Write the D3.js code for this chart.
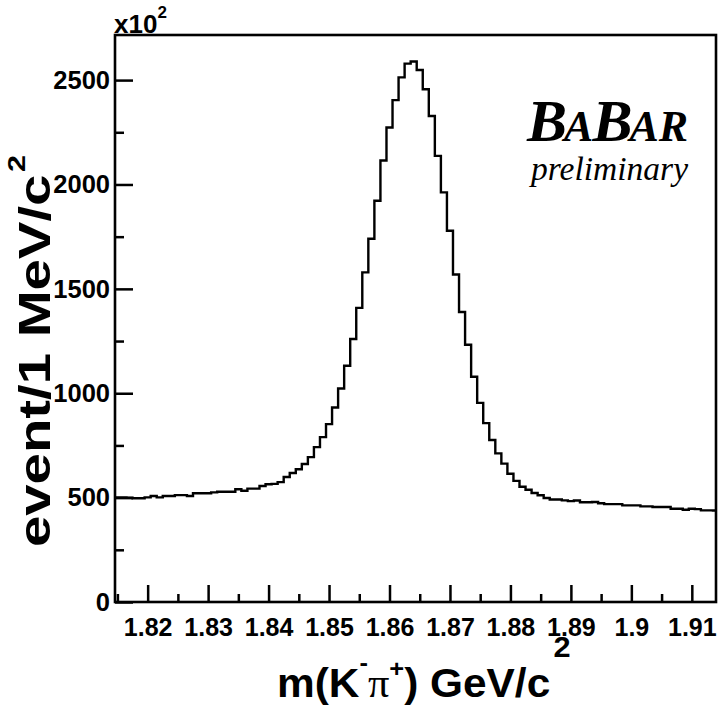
<!DOCTYPE html>
<html><head><meta charset="utf-8">
<script src="https://cdn.jsdelivr.net/npm/d3@7"></script>
<style>body{margin:0;background:#fff}svg{display:block}</style></head>
<body><svg id="c" width="718" height="706"></svg>
<script>
// ---- data ----
const binStart = 1.8145;
const binWidth = 0.001;
const counts = [501,501,500,497,497,501,508,501,508,508,
512,512,508,521,521,521,525,528,528,528,
540,533,543,543,556,564,566,574,599,618,
636,661,694,742,790,852,932,1023,1132,1260,
1409,1579,1740,1922,2115,2273,2404,2513,2579,2589,
2548,2456,2328,2137,1962,1778,1569,1389,1232,1079,
954,857,776,712,663,614,580,552,538,522,
511,498,491,491,487,483,486,478,478,479,
473,469,469,469,463,463,463,458,458,455,
455,455,447,447,442,447,445,439,439,438];
const xTicks = [1.82,1.83,1.84,1.85,1.86,1.87,1.88,1.89,1.90,1.91];
const xMinor = [1.815,1.825,1.835,1.845,1.855,1.865,1.875,1.885,1.895,1.905];
const yTicks = [0,500,1000,1500,2000,2500];
const yMinor = [250,750,1250,1750,2250];

// ---- layout ----
const L=115, R=716, T=35, B=602;
const svg = d3.select('#c');
const x = d3.scaleLinear().domain([1.8146, 1.9140]).range([L, R]);
const y = d3.scaleLinear().domain([0, 2716]).range([B, T]);
const font = "'Liberation Sans', Arial, Helvetica, sans-serif";
const serif = "'Liberation Serif', 'Times New Roman', serif";

svg.append('defs').append('clipPath').attr('id','clip')
  .append('rect').attr('x',L).attr('y',T).attr('width',R-L).attr('height',B-T);

// histogram
const pts = counts.map((c,i)=>[binStart+i*binWidth, c]);
pts.push([binStart+counts.length*binWidth, counts[counts.length-1]]);
const line = d3.line().x(d=>x(d[0])).y(d=>y(d[1])).curve(d3.curveStepAfter);
svg.append('path').attr('clip-path','url(#clip)').attr('d', line(pts))
  .attr('fill','none').attr('stroke','#000').attr('stroke-width',2.4);

// axes
const fmt = d => String(+d.toFixed(2));
const gx = svg.append('g').attr('transform',`translate(0,${B})`)
  .call(d3.axisBottom(x).tickValues(xTicks).tickSize(-17).tickPadding(16).tickFormat(fmt));
const gxm = svg.append('g').attr('transform',`translate(0,${B})`)
  .call(d3.axisBottom(x).tickValues(xMinor).tickSize(-8).tickFormat(''));
const gy = svg.append('g').attr('transform',`translate(${L},0)`)
  .call(d3.axisLeft(y).tickValues(yTicks).tickSize(-18).tickPadding(5).tickFormat(d3.format('d')));
const gym = svg.append('g').attr('transform',`translate(${L},0)`)
  .call(d3.axisLeft(y).tickValues(yMinor).tickSize(-9).tickFormat(''));
[gx,gxm,gy,gym].forEach(g=>{
  g.select('.domain').remove();
  g.selectAll('.tick line').attr('stroke','#000').attr('stroke-width',2.5);
});
gx.selectAll('text').attr('font-family',font).attr('font-weight','bold').attr('font-size',25).attr('fill','#000');
gy.selectAll('text').attr('font-family',font).attr('font-weight','bold').attr('font-size',25.5).attr('fill','#000');

// frame
svg.append('rect').attr('x',L).attr('y',T).attr('width',R-L).attr('height',B-T)
  .attr('fill','none').attr('stroke','#000').attr('stroke-width',2.6);

// x10^2
const ex = svg.append('text').attr('x',L-1).attr('y',33).attr('font-family',font)
  .attr('font-weight','bold').attr('font-size',26);
ex.append('tspan').text('x10');
ex.append('tspan').attr('font-size',17).attr('dy',-15).text('2');

// x title
const xt = svg.append('text').attr('transform','translate(277,697) scale(1.06,1)').attr('font-family',font)
  .attr('font-weight','bold').attr('font-size',40);
xt.append('tspan').text('m(K');
xt.append('tspan').attr('font-size',24).attr('dy',-26).text('-');
xt.append('tspan').attr('dy',26).attr('font-family',serif).attr('font-weight','normal').attr('font-size',40).text('π');
xt.append('tspan').attr('font-size',24).attr('dy',-20).text('+');
xt.append('tspan').attr('dy',20).text(') GeV/c');
xt.append('tspan').attr('font-size',29).attr('dx',3).attr('dy',-40).text('2');

// y title
const yt = svg.append('text').attr('transform','translate(50,547) rotate(-90) scale(1.28,1)')
  .attr('font-family',font).attr('font-weight','bold').attr('font-size',44);
yt.append('tspan').text('event/1 MeV/c');
yt.append('tspan').attr('font-size',24).attr('dx',2).attr('dy',-25).text('2');

// BABAR logo
const bb = svg.append('text').attr('x',527).attr('y',141).attr('font-family',serif)
  .attr('font-weight','bold').attr('font-style','italic');
bb.append('tspan').attr('font-size',60).text('B');
bb.append('tspan').attr('font-size',44).attr('dx',-3).text('A');
bb.append('tspan').attr('font-size',60).attr('dx',-1).text('B');
bb.append('tspan').attr('font-size',44).attr('dx',-3).text('A');
bb.append('tspan').attr('font-size',44).attr('dx',0).text('R');
svg.append('text').attr('x',688).attr('y',180).attr('text-anchor','end').attr('font-family',serif)
  .attr('font-style','italic').attr('font-size',33.5).text('preliminary');
</script>
</body></html>
